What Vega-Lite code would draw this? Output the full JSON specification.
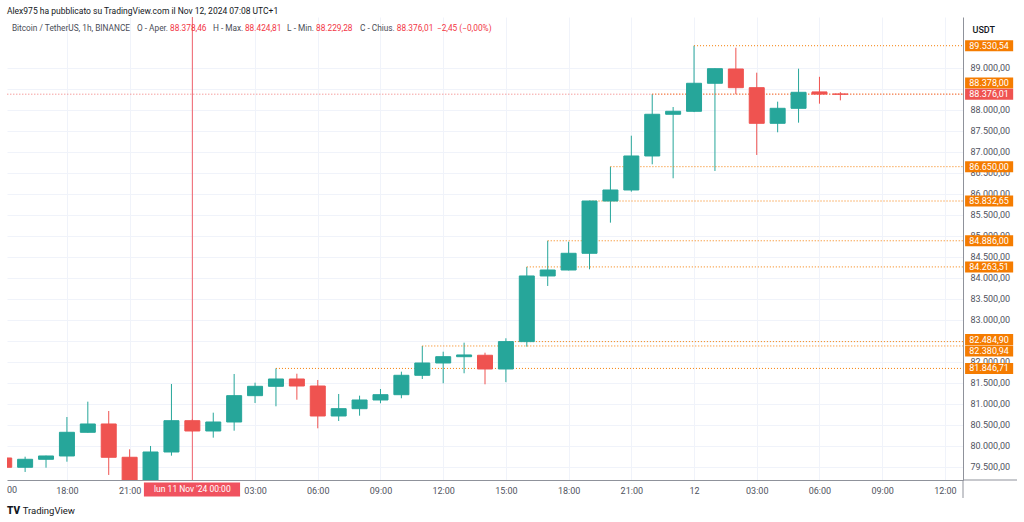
{
  "$schema": "https://vega.github.io/schema/vega-lite/v6.json",
  "width": 956,
  "height": 463,
  "autosize": {"type": "none"},
  "padding": {"left": 7, "top": 17, "right": 61, "bottom": 42},
  "background": "#ffffff",
  "config": {
    "view": {"stroke": null},
    "font": "Roboto"
  },
  "title": {
    "text": "Alex975 ha pubblicato su TradingView.com il Nov 12, 2024 07:08 UTC+1",
    "anchor": "start",
    "frame": "group",
    "fontSize": 8.5,
    "fontWeight": "normal",
    "color": "#131722",
    "font": "Roboto",
    "baseline": "middle",
    "offset": 7,
    "dy": 10
  },
  "datasets": {
    "candles": [
      {"t": "2024-11-10T15:00", "open": 79714, "high": 79740, "low": 79460, "close": 79493},
      {"t": "2024-11-10T16:00", "open": 79493, "high": 79745, "low": 79381, "close": 79683},
      {"t": "2024-11-10T17:00", "open": 79683, "high": 79770, "low": 79483, "close": 79762},
      {"t": "2024-11-10T18:00", "open": 79762, "high": 80690, "low": 79626, "close": 80326},
      {"t": "2024-11-10T19:00", "open": 80326, "high": 81055, "low": 80320, "close": 80524},
      {"t": "2024-11-10T20:00", "open": 80524, "high": 80833, "low": 79310, "close": 79731},
      {"t": "2024-11-10T21:00", "open": 79731, "high": 79921, "low": 78900, "close": 79050},
      {"t": "2024-11-10T22:00", "open": 79050, "high": 80000, "low": 78950, "close": 79857},
      {"t": "2024-11-10T23:00", "open": 79857, "high": 81476, "low": 79769, "close": 80602},
      {"t": "2024-11-11T00:00", "open": 80602, "high": 80640, "low": 80330, "close": 80357},
      {"t": "2024-11-11T01:00", "open": 80357, "high": 80793, "low": 80198, "close": 80571},
      {"t": "2024-11-11T02:00", "open": 80571, "high": 81714, "low": 80364, "close": 81198},
      {"t": "2024-11-11T03:00", "open": 81198, "high": 81507, "low": 81024, "close": 81421},
      {"t": "2024-11-11T04:00", "open": 81421, "high": 81846.71, "low": 80945, "close": 81595},
      {"t": "2024-11-11T05:00", "open": 81595, "high": 81721, "low": 81102, "close": 81428},
      {"t": "2024-11-11T06:00", "open": 81428, "high": 81571, "low": 80421, "close": 80714},
      {"t": "2024-11-11T07:00", "open": 80714, "high": 81238, "low": 80595, "close": 80888},
      {"t": "2024-11-11T08:00", "open": 80888, "high": 81198, "low": 80721, "close": 81095},
      {"t": "2024-11-11T09:00", "open": 81095, "high": 81357, "low": 81017, "close": 81221},
      {"t": "2024-11-11T10:00", "open": 81221, "high": 81769, "low": 81136, "close": 81683},
      {"t": "2024-11-11T11:00", "open": 81683, "high": 82380.94, "low": 81595, "close": 81976},
      {"t": "2024-11-11T12:00", "open": 81976, "high": 82245, "low": 81493, "close": 82126},
      {"t": "2024-11-11T13:00", "open": 82126, "high": 82460, "low": 81731, "close": 82167},
      {"t": "2024-11-11T14:00", "open": 82160, "high": 82221, "low": 81469, "close": 81833},
      {"t": "2024-11-11T15:00", "open": 81833, "high": 82564, "low": 81520, "close": 82484.9},
      {"t": "2024-11-11T16:00", "open": 82484.9, "high": 84263.51, "low": 82364, "close": 84048},
      {"t": "2024-11-11T17:00", "open": 84048, "high": 84886, "low": 83810, "close": 84190},
      {"t": "2024-11-11T18:00", "open": 84190, "high": 84864, "low": 84180, "close": 84588},
      {"t": "2024-11-11T19:00", "open": 84588, "high": 85840, "low": 84207, "close": 85832.65},
      {"t": "2024-11-11T20:00", "open": 85832.65, "high": 86650, "low": 85317, "close": 86095},
      {"t": "2024-11-11T21:00", "open": 86095, "high": 87388, "low": 86055, "close": 86905},
      {"t": "2024-11-11T22:00", "open": 86905, "high": 88378, "low": 86707, "close": 87898},
      {"t": "2024-11-11T23:00", "open": 87898, "high": 88071, "low": 86374, "close": 87969},
      {"t": "2024-11-12T00:00", "open": 87969, "high": 89530.54, "low": 87950, "close": 88636},
      {"t": "2024-11-12T01:00", "open": 88636, "high": 88990, "low": 86548, "close": 88983},
      {"t": "2024-11-12T02:00", "open": 88976, "high": 89483, "low": 88374, "close": 88531},
      {"t": "2024-11-12T03:00", "open": 88531, "high": 88888, "low": 86929, "close": 87683},
      {"t": "2024-11-12T04:00", "open": 87683, "high": 88198, "low": 87469, "close": 88040},
      {"t": "2024-11-12T05:00", "open": 88040, "high": 88983, "low": 87698, "close": 88421},
      {"t": "2024-11-12T06:00", "open": 88430, "high": 88790, "low": 88150, "close": 88378.46},
      {"t": "2024-11-12T07:00", "open": 88378.46, "high": 88424.81, "low": 88229.28, "close": 88376.01}
    ],
    "rays": [
      {"start": "2024-11-12T00:00", "price": 89530.54, "label": "89.530,54"},
      {"start": "2024-11-11T22:00", "price": 88378.0, "label": "88.378,00"},
      {"start": "2024-11-11T20:00", "price": 86650.0, "label": "86.650,00"},
      {"start": "2024-11-11T19:00", "price": 85832.65, "label": "85.832,65"},
      {"start": "2024-11-11T17:00", "price": 84886.0, "label": "84.886,00"},
      {"start": "2024-11-11T16:00", "price": 84263.51, "label": "84.263,51"},
      {"start": "2024-11-11T15:00", "price": 82484.9, "label": "82.484,90"},
      {"start": "2024-11-11T11:00", "price": 82380.94, "label": "82.380,94"},
      {"start": "2024-11-11T04:00", "price": 81846.71, "label": "81.846,71"}
    ],
    "last": [{"price": 88376.01, "label": "88.376,01"}]
  },
  "layer": [
    {
      "data": {"name": "candles"},
      "mark": {"type": "rule", "strokeWidth": 1, "clip": true},
      "encoding": {
        "x": {
          "field": "t", "type": "temporal",
          "scale": {"padding": 0, "domain": [{"year": 2024, "month": 11, "date": 10, "hours": 15, "minutes": 8}, {"year": 2024, "month": 11, "date": 12, "hours": 12, "minutes": 52}]},
          "axis": {
            "orient": "bottom", "title": null,
            "tickCount": 40,
            "values": [
              {"year": 2024, "month": 11, "date": 10, "hours": 18},
              {"year": 2024, "month": 11, "date": 10, "hours": 21},
              {"year": 2024, "month": 11, "date": 11, "hours": 0},
              {"year": 2024, "month": 11, "date": 11, "hours": 3},
              {"year": 2024, "month": 11, "date": 11, "hours": 6},
              {"year": 2024, "month": 11, "date": 11, "hours": 9},
              {"year": 2024, "month": 11, "date": 11, "hours": 12},
              {"year": 2024, "month": 11, "date": 11, "hours": 15},
              {"year": 2024, "month": 11, "date": 11, "hours": 18},
              {"year": 2024, "month": 11, "date": 11, "hours": 21},
              {"year": 2024, "month": 11, "date": 12, "hours": 0},
              {"year": 2024, "month": 11, "date": 12, "hours": 3},
              {"year": 2024, "month": 11, "date": 12, "hours": 6},
              {"year": 2024, "month": 11, "date": 12, "hours": 9},
              {"year": 2024, "month": 11, "date": 12, "hours": 12}
            ],
            "labelExpr": "hours(datum.value) == 0 ? (date(datum.value) == 12 ? '12' : '') : timeFormat(datum.value, '%H:%M')",
            "grid": true, "gridColor": "#f0f3fa", "gridWidth": 1,
            "domain": true, "domainColor": "#8f929b", "domainWidth": 1,
            "ticks": false, "tickSize": 0,
            "labelPadding": 6, "labelFontSize": 9, "labelColor": "#50535e", "labelFont": "Roboto",
            "labelFlush": false, "labelOverlap": false
          }
        },
        "y": {
          "field": "low", "type": "quantitative",
          "scale": {"padding": 0, "domain": [79190, 90214], "nice": false, "zero": false},
          "axis": {
            "orient": "right", "title": "USDT",
            "tickCount": 40,
            "values": [79500, 80000, 80500, 81000, 81500, 82000, 82500, 83000, 83500, 84000, 84500, 85000, 85500, 86000, 86500, 87000, 87500, 88000, 88500, 89000],
            "labelExpr": "(datum.value == 82500 || datum.value == 88500) ? '' : replace(replace(replace(format(datum.value, ',.2f'), ',', '#'), '.', ','), '#', '.')",
            "grid": true, "gridColor": "#f0f3fa", "gridWidth": 1,
            "domain": true, "domainColor": "#8f929b", "domainWidth": 1,
            "ticks": false, "tickSize": 0,
            "labelPadding": 7, "labelFontSize": 9, "labelColor": "#50535e", "labelFont": "Roboto",
            "labelOverlap": false, "labelFlush": false,
            "titleAngle": 0, "titleAlign": "left", "titleBaseline": "middle", "titleX": 9, "titleY": 12,
            "titleFontSize": 9, "titleFontWeight": 500, "titleColor": "#131722", "titleFont": "Roboto"
          }
        },
        "y2": {"field": "high"},
        "color": {"condition": {"test": "datum.close < datum.open", "value": "#ef5350"}, "value": "#26a69a"}
      }
    },
    {
      "data": {"name": "rays"},
      "mark": {"type": "rule", "strokeWidth": 1, "strokeDash": [1, 2], "color": "#f57c00", "clip": true},
      "encoding": {
        "x": {"field": "start", "type": "temporal"},
        "x2": {"datum": {"year": 2024, "month": 11, "date": 12, "hours": 13}},
        "y": {"field": "price", "type": "quantitative"}
      }
    },
    {
      "data": {"name": "last"},
      "mark": {"type": "rule", "strokeWidth": 1, "strokeDash": [1, 2], "color": "#ef5350", "opacity": 0.8, "clip": true},
      "encoding": {
        "x": {"datum": {"year": 2024, "month": 11, "date": 10, "hours": 14}, "type": "temporal"},
        "x2": {"datum": {"year": 2024, "month": 11, "date": 12, "hours": 13}},
        "y": {"field": "price", "type": "quantitative"}
      }
    },
    {
      "data": {"name": "last"},
      "mark": {"type": "rule", "strokeWidth": 1, "color": "#f0616b"},
      "encoding": {
        "x": {"datum": {"year": 2024, "month": 11, "date": 11, "hours": 0}, "type": "temporal"},
        "y": {"datum": 79190},
        "y2": {"datum": 90214}
      }
    },
    {
      "data": {"name": "candles"},
      "mark": {"type": "bar", "width": 15, "strokeWidth": 1, "clip": true},
      "encoding": {
        "x": {"field": "t", "type": "temporal"},
        "y": {"field": "open", "type": "quantitative"},
        "y2": {"field": "close"},
        "color": {"condition": {"test": "datum.close < datum.open", "value": "#ef5350"}, "value": "#26a69a"},
        "stroke": {"condition": {"test": "datum.close < datum.open", "value": "#ef5350"}, "value": "#26a69a"}
      }
    },
    {
      "data": {"name": "last"},
      "mark": {"type": "rule", "strokeWidth": 1, "color": "#8f929b"},
      "encoding": {
        "x": {"datum": {"year": 2024, "month": 11, "date": 12, "hours": 12, "minutes": 52}, "type": "temporal"},
        "y": {"datum": 79190},
        "y2": {"datum": 78762}
      }
    },
    {
      "data": {"name": "last"},
      "mark": {"type": "rule", "strokeWidth": 1, "color": "#8f929b"},
      "encoding": {
        "x": {"datum": {"year": 2024, "month": 11, "date": 12, "hours": 12, "minutes": 52}, "type": "temporal"},
        "x2": {"datum": {"year": 2024, "month": 11, "date": 12, "hours": 15, "minutes": 27}},
        "y": {"datum": 79190}
      }
    },
    {
      "data": {"name": "last"},
      "mark": {"type": "text", "align": "left", "baseline": "middle", "fontSize": 9, "color": "#50535e", "font": "Roboto"},
      "encoding": {
        "x": {"datum": {"year": 2024, "month": 11, "date": 10, "hours": 15, "minutes": 8}, "type": "temporal"},
        "y": {"datum": 78952},
        "text": {"value": "00"}
      }
    },
    {
      "data": {"name": "rays"},
      "transform": [{"filter": "datum.price != 88378 && datum.price != 82380.94 && datum.price != 82484.9"}],
      "mark": {"type": "rule", "strokeWidth": 11, "color": "#f57c00"},
      "encoding": {
        "x": {"datum": {"year": 2024, "month": 11, "date": 12, "hours": 12, "minutes": 58}, "type": "temporal"},
        "x2": {"datum": {"year": 2024, "month": 11, "date": 12, "hours": 15, "minutes": 16}},
        "y": {"field": "price", "type": "quantitative"}
      }
    },
    {
      "data": {"name": "rays"},
      "transform": [{"filter": "datum.price != 88378 && datum.price != 82380.94 && datum.price != 82484.9"}],
      "mark": {"type": "text", "align": "left", "baseline": "middle", "fontSize": 9, "color": "#ffffff", "font": "Roboto"},
      "encoding": {
        "x": {"datum": {"year": 2024, "month": 11, "date": 12, "hours": 13, "minutes": 10}, "type": "temporal"},
        "y": {"field": "price", "type": "quantitative"},
        "text": {"field": "label"}
      }
    },
    {
      "data": {"name": "rays"},
      "transform": [{"filter": "datum.price == 88378"}],
      "mark": {"type": "rule", "strokeWidth": 11, "color": "#f57c00", "yOffset": -11},
      "encoding": {
        "x": {"datum": {"year": 2024, "month": 11, "date": 12, "hours": 12, "minutes": 58}, "type": "temporal"},
        "x2": {"datum": {"year": 2024, "month": 11, "date": 12, "hours": 15, "minutes": 16}},
        "y": {"field": "price", "type": "quantitative"}
      }
    },
    {
      "data": {"name": "rays"},
      "transform": [{"filter": "datum.price == 88378"}],
      "mark": {"type": "text", "align": "left", "baseline": "middle", "fontSize": 9, "color": "#ffffff", "font": "Roboto", "yOffset": -11},
      "encoding": {
        "x": {"datum": {"year": 2024, "month": 11, "date": 12, "hours": 13, "minutes": 10}, "type": "temporal"},
        "y": {"field": "price", "type": "quantitative"},
        "text": {"field": "label"}
      }
    },
    {
      "data": {"name": "rays"},
      "transform": [{"filter": "datum.price == 82484.9"}],
      "mark": {"type": "rule", "strokeWidth": 11, "color": "#f57c00", "yOffset": -2},
      "encoding": {
        "x": {"datum": {"year": 2024, "month": 11, "date": 12, "hours": 12, "minutes": 58}, "type": "temporal"},
        "x2": {"datum": {"year": 2024, "month": 11, "date": 12, "hours": 15, "minutes": 16}},
        "y": {"field": "price", "type": "quantitative"}
      }
    },
    {
      "data": {"name": "rays"},
      "transform": [{"filter": "datum.price == 82484.9"}],
      "mark": {"type": "text", "align": "left", "baseline": "middle", "fontSize": 9, "color": "#ffffff", "font": "Roboto", "yOffset": -2},
      "encoding": {
        "x": {"datum": {"year": 2024, "month": 11, "date": 12, "hours": 13, "minutes": 10}, "type": "temporal"},
        "y": {"field": "price", "type": "quantitative"},
        "text": {"field": "label"}
      }
    },
    {
      "data": {"name": "rays"},
      "transform": [{"filter": "datum.price == 82380.94"}],
      "mark": {"type": "rule", "strokeWidth": 11, "color": "#f57c00", "yOffset": 5},
      "encoding": {
        "x": {"datum": {"year": 2024, "month": 11, "date": 12, "hours": 12, "minutes": 58}, "type": "temporal"},
        "x2": {"datum": {"year": 2024, "month": 11, "date": 12, "hours": 15, "minutes": 16}},
        "y": {"field": "price", "type": "quantitative"}
      }
    },
    {
      "data": {"name": "rays"},
      "transform": [{"filter": "datum.price == 82380.94"}],
      "mark": {"type": "text", "align": "left", "baseline": "middle", "fontSize": 9, "color": "#ffffff", "font": "Roboto", "yOffset": 5},
      "encoding": {
        "x": {"datum": {"year": 2024, "month": 11, "date": 12, "hours": 13, "minutes": 10}, "type": "temporal"},
        "y": {"field": "price", "type": "quantitative"},
        "text": {"field": "label"}
      }
    },
    {
      "data": {"name": "last"},
      "mark": {"type": "rule", "strokeWidth": 11, "color": "#ef5350"},
      "encoding": {
        "x": {"datum": {"year": 2024, "month": 11, "date": 12, "hours": 12, "minutes": 58}, "type": "temporal"},
        "x2": {"datum": {"year": 2024, "month": 11, "date": 12, "hours": 15, "minutes": 16}},
        "y": {"field": "price", "type": "quantitative"}
      }
    },
    {
      "data": {"name": "last"},
      "mark": {"type": "text", "align": "left", "baseline": "middle", "fontSize": 9, "color": "#ffffff", "font": "Roboto"},
      "encoding": {
        "x": {"datum": {"year": 2024, "month": 11, "date": 12, "hours": 13, "minutes": 10}, "type": "temporal"},
        "y": {"field": "price", "type": "quantitative"},
        "text": {"field": "label"}
      }
    },
    {
      "data": {"name": "last"},
      "mark": {"type": "rule", "strokeWidth": 14, "color": "#f0525f"},
      "encoding": {
        "x": {"datum": {"year": 2024, "month": 11, "date": 10, "hours": 21, "minutes": 41}, "type": "temporal"},
        "x2": {"datum": {"year": 2024, "month": 11, "date": 11, "hours": 2, "minutes": 17}},
        "y": {"datum": 78964}
      }
    },
    {
      "data": {"name": "last"},
      "mark": {"type": "text", "align": "center", "baseline": "middle", "fontSize": 8.5, "color": "#ffffff", "font": "Roboto"},
      "encoding": {
        "x": {"datum": {"year": 2024, "month": 11, "date": 11, "hours": 0}, "type": "temporal"},
        "y": {"datum": 78964},
        "text": {"value": "lun 11 Nov '24   00:00"}
      }
    },
    {
      "data": {"name": "last"},
      "mark": {"type": "text", "align": "left", "baseline": "middle", "fontSize": 10, "fontWeight": 900, "color": "#131722", "font": "Roboto"},
      "encoding": {
        "x": {"datum": {"year": 2024, "month": 11, "date": 10, "hours": 15, "minutes": 8}, "type": "temporal"},
        "y": {"datum": 78460},
        "text": {"value": "TV"}
      }
    },
    {
      "data": {"name": "last"},
      "mark": {"type": "text", "align": "left", "baseline": "middle", "fontSize": 9.5, "color": "#131722", "font": "Roboto"},
      "encoding": {
        "x": {"datum": {"year": 2024, "month": 11, "date": 10, "hours": 15, "minutes": 53}, "type": "temporal"},
        "y": {"datum": 78460},
        "text": {"value": "TradingView"}
      }
    },
    {
      "data": {"name": "last"},
      "mark": {"type": "text", "align": "left", "baseline": "middle", "fontSize": 8.3, "color": "#4a4d57", "font": "Roboto"},
      "encoding": {
        "x": {"datum": {"year": 2024, "month": 11, "date": 10, "hours": 15, "minutes": 22}, "type": "temporal"},
        "y": {"datum": 89928},
        "text": {"value": "Bitcoin / TetherUS, 1h, BINANCE"}
      }
    },
    {
      "data": {"name": "last"},
      "mark": {"type": "text", "align": "left", "baseline": "middle", "fontSize": 8.3, "color": "#4a4d57", "font": "Roboto"},
      "encoding": {
        "x": {"datum": {"year": 2024, "month": 11, "date": 10, "hours": 21, "minutes": 21}, "type": "temporal"},
        "y": {"datum": 89928},
        "text": {"value": "O - Aper."}
      }
    },
    {
      "data": {"name": "last"},
      "mark": {"type": "text", "align": "left", "baseline": "middle", "fontSize": 8.3, "color": "#f23645", "font": "Roboto"},
      "encoding": {
        "x": {"datum": {"year": 2024, "month": 11, "date": 10, "hours": 22, "minutes": 56}, "type": "temporal"},
        "y": {"datum": 89928},
        "text": {"value": "88.378,46"}
      }
    },
    {
      "data": {"name": "last"},
      "mark": {"type": "text", "align": "left", "baseline": "middle", "fontSize": 8.3, "color": "#4a4d57", "font": "Roboto"},
      "encoding": {
        "x": {"datum": {"year": 2024, "month": 11, "date": 11, "hours": 0, "minutes": 59}, "type": "temporal"},
        "y": {"datum": 89928},
        "text": {"value": "H - Max."}
      }
    },
    {
      "data": {"name": "last"},
      "mark": {"type": "text", "align": "left", "baseline": "middle", "fontSize": 8.3, "color": "#f23645", "font": "Roboto"},
      "encoding": {
        "x": {"datum": {"year": 2024, "month": 11, "date": 11, "hours": 2, "minutes": 31}, "type": "temporal"},
        "y": {"datum": 89928},
        "text": {"value": "88.424,81"}
      }
    },
    {
      "data": {"name": "last"},
      "mark": {"type": "text", "align": "left", "baseline": "middle", "fontSize": 8.3, "color": "#4a4d57", "font": "Roboto"},
      "encoding": {
        "x": {"datum": {"year": 2024, "month": 11, "date": 11, "hours": 4, "minutes": 32}, "type": "temporal"},
        "y": {"datum": 89928},
        "text": {"value": "L - Min."}
      }
    },
    {
      "data": {"name": "last"},
      "mark": {"type": "text", "align": "left", "baseline": "middle", "fontSize": 8.3, "color": "#f23645", "font": "Roboto"},
      "encoding": {
        "x": {"datum": {"year": 2024, "month": 11, "date": 11, "hours": 5, "minutes": 55}, "type": "temporal"},
        "y": {"datum": 89928},
        "text": {"value": "88.229,28"}
      }
    },
    {
      "data": {"name": "last"},
      "mark": {"type": "text", "align": "left", "baseline": "middle", "fontSize": 8.3, "color": "#4a4d57", "font": "Roboto"},
      "encoding": {
        "x": {"datum": {"year": 2024, "month": 11, "date": 11, "hours": 8, "minutes": 1}, "type": "temporal"},
        "y": {"datum": 89928},
        "text": {"value": "C - Chius."}
      }
    },
    {
      "data": {"name": "last"},
      "mark": {"type": "text", "align": "left", "baseline": "middle", "fontSize": 8.3, "color": "#f23645", "font": "Roboto"},
      "encoding": {
        "x": {"datum": {"year": 2024, "month": 11, "date": 11, "hours": 9, "minutes": 47}, "type": "temporal"},
        "y": {"datum": 89928},
        "text": {"value": "88.376,01"}
      }
    },
    {
      "data": {"name": "last"},
      "mark": {"type": "text", "align": "left", "baseline": "middle", "fontSize": 8.3, "color": "#f23645", "font": "Roboto"},
      "encoding": {
        "x": {"datum": {"year": 2024, "month": 11, "date": 11, "hours": 11, "minutes": 42}, "type": "temporal"},
        "y": {"datum": 89928},
        "text": {"value": "−2,45 (−0,00%)"}
      }
    }
  ]
}
